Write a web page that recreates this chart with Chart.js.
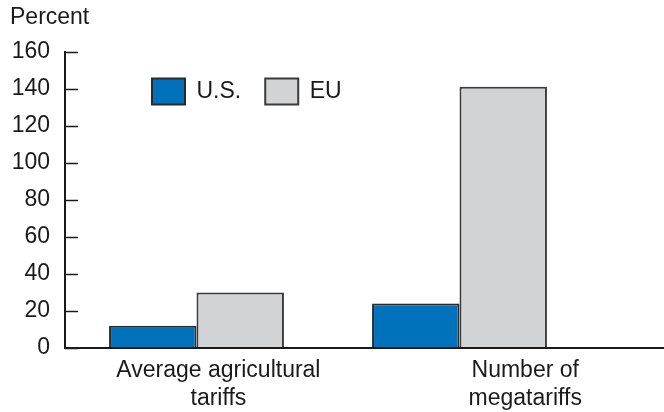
<!DOCTYPE html>
<html>
<head>
<meta charset="utf-8">
<script src="https://cdn.jsdelivr.net/npm/chart.js@4"></script>
<style>
 html, body { margin: 0; padding: 0; background: #fff; }
 #wrap { width: 664px; height: 412px; }
</style>
</head>
<body>
<div id="wrap"><canvas id="chart" width="664" height="412"></canvas></div>
<script>
// data
const categories = ['Average agricultural tariffs', 'Number of megatariffs'];
const usValues = [12, 24];
const euValues = [30, 141];
// label slots for the category axis (labels sit right of the bar groups)
const labelSlots = ['', '', '', ['Average agricultural', 'tariffs'], '', '', '', '', '', '', ['Number of', 'megatariffs'], ''];
const yTicks = [0, 20, 40, 60, 80, 100, 120, 140, 160];

const INK = '#1a1a1a';
const FONT = "'Liberation Sans', Arial, sans-serif";

// axis extras: inward y ticks, long baseline, legend placed in the plot
const axisExtras = {
 id: 'axisExtras',
 afterLayout(chart) {
   const lg = chart.legend;
   const area = chart.chartArea;
   if (!lg) return;
   // short column height so the two keys sit side by side
   lg.update(420, 70, { left: 0, top: 0, right: 0, bottom: 0 });
   lg.left = area.left + 63;
   lg.top = area.top + 3;
   lg.right = lg.left + lg.width;
   lg.bottom = lg.top + lg.height;
 },
 afterDatasetsDraw(chart) {
   const { ctx, chartArea, scales } = chart;
   const y = scales.y;
   ctx.save();
   ctx.strokeStyle = INK;
   ctx.lineWidth = 1.5;
   y.ticks.forEach(t => {
     const py = Math.round(y.getPixelForValue(t.value)) + 0.5;
     ctx.beginPath();
     ctx.moveTo(chartArea.left, py);
     ctx.lineTo(chartArea.left + 13, py);
     ctx.stroke();
   });
   const base = y.getPixelForValue(0);
   ctx.lineWidth = 2;
   ctx.beginPath();
   ctx.moveTo(chartArea.left - 1, base);
   ctx.lineTo(chart.width, base);
   ctx.stroke();
   ctx.restore();
 }
};

new Chart(document.getElementById('chart'), {
 type: 'bar',
 data: {
   labels: categories,
   datasets: [
     {
       label: 'U.S.',
       data: usValues,
       backgroundColor: '#0072bc',
       borderColor: '#2a2a2a',
       borderWidth: 2,
       borderSkipped: 'bottom'
     },
     {
       label: 'EU',
       data: euValues,
       backgroundColor: '#d1d3d4',
       borderColor: '#3a3a3a',
       borderWidth: 2,
       borderSkipped: 'bottom'
     }
   ]
 },
 options: {
   responsive: false,
   animation: false,
   layout: { padding: { left: 10, right: 73, top: 0, bottom: 0 } },
   datasets: { bar: { categoryPercentage: 0.665, barPercentage: 1 } },
   scales: {
     x: { display: false },
     x2: {
       type: 'category',
       position: 'bottom',
       labels: labelSlots,
       offset: true,
       grid: { display: false },
       border: { display: false },
       ticks: {
         autoSkip: false,
         maxRotation: 0,
         minRotation: 0,
         padding: 1,
         color: INK,
         font: { family: FONT, size: 23, lineHeight: 1.2 }
       },
       afterFit(s) { s.height = 64; }
     },
     y: {
       min: 0,
       max: 160,
       afterBuildTicks(s) { s.ticks = yTicks.map(v => ({ value: v })); },
       grid: { display: false, drawTicks: false },
       border: { display: true, color: INK, width: 2 },
       ticks: {
         padding: 15,
         color: INK,
         font: { family: FONT, size: 23 }
       },
       afterFit(s) { s.width = 55; }
     }
   },
   plugins: {
     title: {
       display: true,
       text: 'Percent',
       align: 'start',
       color: INK,
       font: { family: FONT, size: 23, weight: 'normal', lineHeight: 1.2 },
       padding: { top: 4, bottom: 20 }
     },
     legend: {
       position: 'chartArea',
       align: 'start',
       labels: {
         boxWidth: 33,
         boxHeight: 26,
         padding: 24,
         color: INK,
         font: { family: FONT, size: 23 }
       }
     },
     tooltip: { enabled: false }
   }
 },
 plugins: [axisExtras]
});
</script>
</body>
</html>
